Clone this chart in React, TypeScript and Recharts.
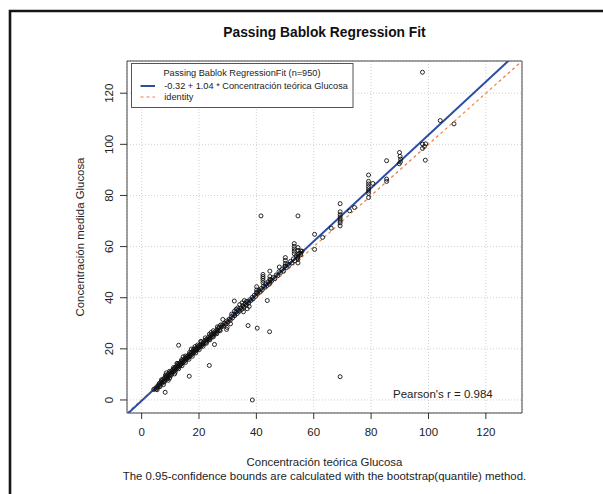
import React from "react";
import {
  ScatterChart,
  Scatter,
  XAxis,
  YAxis,
  CartesianGrid,
  ReferenceLine,
  ReferenceArea
} from "recharts";

// Passing-Bablok fit
const INTERCEPT = -0.32;
const SLOPE = 1.04;
const N_OBS = 950;
const PEARSON_R = 0.984;

const AXIS_MIN = -5.1;
const AXIS_MAX = 132.6;
const TICKS = [0, 20, 40, 60, 80, 100, 120];

// [teórica, medida] — the dense band from 4 to 28
const BAND_LOW: [number, number][] = [
  [4.2, 4.1], [4.6, 4.4], [5.1, 4.3], [5.3, 5.2], [5.6, 4.9], [5.9, 5.8], [6.1, 6.4], [6.3, 5.7],
  [6.6, 6.9], [6.8, 6.3], [7.0, 7.4], [7.2, 6.8], [7.4, 7.9], [7.6, 7.2], [7.8, 8.4], [8.0, 7.6],
  [8.2, 8.9], [8.4, 8.1], [8.6, 9.4], [8.8, 8.6], [9.0, 9.8], [9.2, 9.0], [9.4, 10.3], [9.6, 9.5],
  [9.8, 10.6], [10.0, 9.9], [10.2, 11.0], [10.4, 10.4], [10.6, 11.5], [10.8, 10.8], [11.0, 12.0],
  [11.2, 11.2], [11.4, 12.3], [11.6, 11.7], [11.8, 12.8], [12.0, 12.0], [12.2, 13.2], [12.4, 12.5],
  [12.6, 13.6], [12.8, 12.9], [13.0, 14.1], [13.2, 13.3], [13.4, 14.5], [13.6, 13.8], [13.8, 15.0],
  [14.0, 14.2], [14.2, 15.3], [14.4, 14.6], [14.6, 15.7], [14.8, 15.1], [15.0, 16.1], [15.2, 15.5],
  [15.4, 16.4], [15.6, 16.0], [15.8, 16.9], [16.0, 16.4], [16.2, 17.3], [16.4, 16.7], [16.6, 17.7],
  [16.8, 17.1], [17.0, 18.1], [17.2, 17.5], [17.4, 18.6], [17.6, 17.9], [17.8, 19.0], [18.0, 18.3],
  [18.2, 19.5], [18.4, 18.8], [18.6, 19.8], [18.8, 19.2], [19.0, 20.2], [19.2, 19.6], [19.4, 20.7],
  [19.6, 20.0], [19.8, 21.0], [20.0, 20.5], [20.3, 21.4], [20.6, 20.9], [20.9, 22.0], [21.2, 21.6],
  [21.5, 22.6], [21.8, 22.0], [22.1, 23.3], [22.4, 22.6], [22.7, 23.8], [23.0, 23.3], [23.3, 24.5],
  [23.6, 23.9], [23.9, 25.0], [24.2, 24.4], [24.5, 25.6], [24.8, 25.0], [25.1, 26.2], [25.4, 25.7],
  [25.7, 26.8], [26.0, 26.3], [26.3, 27.5], [26.6, 27.0], [26.9, 28.1], [27.2, 27.4],
  [5.4, 4.0], [7.6, 6.0], [9.8, 8.6], [11.5, 10.2], [8.6, 10.6], [12.3, 14.3], [14.5, 16.9],
  [18.6, 20.9], [17.3, 19.9], [20.6, 22.9], [24.2, 26.4], [27.5, 29.3], [27.0, 28.5]
];

// extra readings in the same band, the lower and upper edges
const BAND_LOW_EDGES: [number, number][] = [
  [6.4, 5.2], [7.9, 7.0], [9.1, 8.3], [10.3, 9.6], [11.7, 10.9], [12.9, 12.2], [14.1, 13.4],
  [15.3, 14.7], [16.5, 15.9], [17.7, 17.1], [18.9, 18.4], [20.1, 19.7], [21.4, 21.0], [22.6, 22.2],
  [23.8, 23.5], [25.0, 24.7], [26.2, 25.9], [27.4, 27.1],
  [6.9, 7.9], [8.3, 9.7], [9.7, 11.2], [11.1, 12.7], [12.5, 14.2], [13.9, 15.7], [15.3, 17.2],
  [16.7, 18.6], [18.1, 20.0], [19.5, 21.5], [20.8, 22.8], [22.2, 24.3], [23.6, 25.7], [25.0, 27.1],
  [26.4, 28.6]
];

// band from 28 to 56, plus the vertical stacks
const BAND_MID: [number, number][] = [
  [27.8, 28.6], [28.2, 29.4], [28.5, 28.9], [28.9, 30.0], [29.3, 29.6], [29.7, 30.9], [30.1, 30.5],
  [30.5, 31.6], [30.9, 31.2], [31.3, 32.6], [31.7, 32.1], [32.1, 33.5], [32.5, 33.0], [32.9, 34.3],
  [33.3, 33.8], [33.7, 35.1], [34.1, 34.7], [34.5, 36.0], [34.9, 35.4], [35.3, 36.9], [35.7, 36.3],
  [36.1, 37.7], [36.5, 37.1], [36.9, 38.5], [37.3, 37.9], [37.7, 39.2], [38.1, 38.9], [38.5, 40.1],
  [38.9, 39.6], [39.3, 41.0], [39.7, 40.5], [40.1, 41.9], [40.5, 41.7], [40.9, 42.8], [41.3, 42.2],
  [41.7, 43.6], [42.1, 43.2], [42.5, 44.6], [42.9, 44.1], [43.3, 45.4], [43.7, 44.8], [44.1, 46.2],
  [44.5, 45.3], [44.9, 46.9], [45.4, 46.7], [45.9, 47.9], [46.4, 47.5], [46.9, 48.9], [47.4, 48.6],
  [47.9, 50.2], [48.4, 49.8], [48.9, 51.0], [49.4, 50.4], [49.9, 52.3], [50.4, 51.7], [50.9, 53.1],
  [51.4, 52.7], [51.9, 54.2], [52.4, 53.6], [52.9, 55.2], [53.4, 54.5], [53.9, 56.4], [54.4, 55.6],
  [54.9, 57.3], [55.4, 56.8], [55.9, 58.2],
  [31.4, 33.6], [32.4, 34.8], [33.5, 36.0], [34.2, 37.3], [35.0, 38.0], [35.8, 38.9], [36.5, 38.5],
  [33.0, 35.5], [35.5, 34.5], [36.8, 35.7], [37.5, 36.6], [31.0, 29.8], [29.8, 28.4], [29.6, 27.6],
  [40.1, 42.1], [40.1, 43.0], [40.1, 44.3],
  [42.3, 45.9], [42.3, 46.8], [42.3, 47.6], [42.3, 48.3], [42.3, 49.1],
  [44.7, 46.1], [44.7, 47.2], [44.7, 48.3], [44.7, 50.4], [48.0, 52.0],
  [50.1, 52.4], [50.1, 53.4], [50.1, 54.6], [50.1, 55.7],
  [53.2, 57.2], [53.2, 58.2], [53.2, 59.1], [53.2, 60.1], [53.2, 61.2],
  [54.5, 53.6], [54.5, 55.0], [54.5, 56.0], [54.5, 57.0], [54.5, 58.5], [54.5, 59.6],
  [55.5, 57.4], [55.5, 58.3]
];

// upper range, above 56
const BAND_HIGH: [number, number][] = [
  [60.3, 64.8], [60.3, 58.9], [63.1, 63.6], [66.1, 67.2],
  [69.2, 76.8], [69.2, 73.6], [69.2, 72.5], [69.2, 71.6], [69.2, 70.8], [69.2, 70.0], [69.2, 69.3],
  [69.2, 68.1], [72.5, 74.0], [74.2, 75.3],
  [79.1, 88.0], [79.1, 85.5], [79.1, 84.5], [79.1, 83.5], [79.1, 82.6], [79.1, 81.7], [79.1, 80.8],
  [79.1, 79.2], [80.6, 84.7],
  [85.4, 93.6], [85.4, 86.4], [85.4, 85.5],
  [89.9, 96.8], [90.1, 95.3], [90.3, 94.2], [89.8, 92.4], [90.2, 93.1],
  [97.9, 128.2], [104.1, 109.3], [108.9, 108.0],
  [97.9, 100.1], [99.0, 100.2], [97.9, 98.4], [98.6, 99.2], [98.9, 93.8]
];

const OUTLIERS: [number, number][] = [
  [41.6, 72.0], [54.5, 72.0], [38.6, 0.0], [69.2, 9.1], [43.8, 38.9], [37.1, 29.1], [40.3, 28.1],
  [44.6, 26.7], [25.4, 21.7], [23.6, 13.5], [16.6, 9.3], [12.9, 21.4], [8.2, 3.0], [9.3, 7.7],
  [32.3, 38.7], [28.3, 31.5]
];

const points = [...BAND_LOW, ...BAND_LOW_EDGES, ...BAND_MID, ...BAND_HIGH, ...OUTLIERS].map(
  ([x, y]) => ({ x, y })
);

const fitAt = (x: number) => INTERCEPT + SLOPE * x;

const FONT = '"Liberation Sans", Arial, Helvetica, sans-serif';
const BLUE = "#2B4DA6";
const ORANGE = "#EF7A45";

const W = 603;
const H = 494;
const PLOT = { left: 127, right: 522, top: 61, bottom: 413 };
const X_AXIS_H = 30;
const Y_AXIS_W = 40;

function Ring(props: any) {
  const { cx, cy } = props;
  if (cx == null || cy == null) return null;
  return <circle cx={cx} cy={cy} r={2} fill="none" stroke="#111" strokeWidth={0.9} />;
}

function YTick(props: any) {
  const { x, y, payload } = props;
  return (
    <text
      x={x}
      y={y}
      dy="0.35em"
      textAnchor="middle"
      transform={`rotate(-90, ${x}, ${y})`}
      fontSize={11.5}
      fontFamily={FONT}
      fill="#222"
    >
      {payload.value}
    </text>
  );
}

function Overlay() {
  const midX = (PLOT.left + PLOT.right) / 2;
  const midY = (PLOT.top + PLOT.bottom) / 2;
  return (
    <svg
      width={W}
      height={H}
      style={{ position: "absolute", left: 0, top: 0, pointerEvents: "none" }}
      fontFamily={FONT}
    >
      <path d={`M10,${H} V11 H${W}`} fill="none" stroke="#151515" strokeWidth={2.6} />
      <text x={midX} y={32} dy="0.35em" textAnchor="middle" fontSize={13.8} fontWeight="bold" fill="#111">
        Passing Bablok Regression Fit
      </text>
      <text
        x={80}
        y={midY}
        dy="0.35em"
        textAnchor="middle"
        transform={`rotate(-90, 80, ${midY})`}
        fontSize={11.4}
        fill="#222"
      >
        Concentración medida Glucosa
      </text>
      <text x={midX} y={462} dy="0.35em" textAnchor="middle" fontSize={11.4} fill="#222">
        Concentración teórica Glucosa
      </text>
      <text x={midX} y={476} dy="0.35em" textAnchor="middle" fontSize={11.4} fill="#222">
        The 0.95-confidence bounds are calculated with the bootstrap(quantile) method.
      </text>
      <text x={393} y={394} dy="0.35em" fontSize={11.5} fill="#222">
        {`Pearson's r = ${PEARSON_R}`}
      </text>

      <rect x={131.5} y={63.5} width={221.5} height={44} fill="#fff" stroke="#555" strokeWidth={1} />
      <text x={242} y={72.5} dy="0.35em" textAnchor="middle" fontSize={9.2} fill="#222">
        {`Passing Bablok RegressionFit (n=${N_OBS})`}
      </text>
      <line x1={140.5} x2={155} y1={86} y2={86} stroke={BLUE} strokeWidth={2} />
      <text x={164.3} y={86} dy="0.35em" fontSize={9.2} fill="#222">
        {`${INTERCEPT} + ${SLOPE} * Concentración teórica Glucosa`}
      </text>
      <line x1={140.5} x2={155} y1={97} y2={97} stroke={ORANGE} strokeWidth={1.1} strokeDasharray="3 3" />
      <text x={164.3} y={97} dy="0.35em" fontSize={9.2} fill="#222">
        identity
      </text>
    </svg>
  );
}

export default function App() {
  return (
    <div style={{ position: "absolute", left: 0, top: 0, width: W, height: H, background: "#fff" }}>
      <ScatterChart
        width={W}
        height={H}
        margin={{
          top: PLOT.top,
          right: W - PLOT.right,
          bottom: H - PLOT.bottom - X_AXIS_H,
          left: PLOT.left - Y_AXIS_W
        }}
      >
        <CartesianGrid stroke="#d0d0d0" strokeDasharray="1 2" />
        <XAxis
          type="number"
          dataKey="x"
          domain={[AXIS_MIN, AXIS_MAX]}
          ticks={TICKS}
          allowDataOverflow
          height={X_AXIS_H}
          axisLine={false}
          tickSize={6}
          tickMargin={9}
          tickLine={{ stroke: "#333" }}
          tick={{ fontSize: 11.5, fontFamily: FONT, fill: "#222" }}
        />
        <YAxis
          type="number"
          dataKey="y"
          domain={[AXIS_MIN, AXIS_MAX]}
          ticks={TICKS}
          allowDataOverflow
          width={Y_AXIS_W}
          axisLine={false}
          tickSize={7}
          tickMargin={11.5}
          tickLine={{ stroke: "#333" }}
          tick={<YTick />}
        />
        <ReferenceArea
          x1={AXIS_MIN}
          x2={AXIS_MAX}
          y1={AXIS_MIN}
          y2={AXIS_MAX}
          fill="none"
          stroke="#444"
          strokeWidth={1}
        />
        <Scatter data={points} shape={<Ring />} isAnimationActive={false} />
        <ReferenceLine
          segment={[
            { x: AXIS_MIN, y: AXIS_MIN },
            { x: AXIS_MAX, y: AXIS_MAX }
          ]}
          stroke={ORANGE}
          strokeWidth={1.2}
          strokeDasharray="3 3"
          ifOverflow="hidden"
        />
        <ReferenceLine
          segment={[
            { x: AXIS_MIN, y: fitAt(AXIS_MIN) },
            { x: AXIS_MAX, y: fitAt(AXIS_MAX) }
          ]}
          stroke={BLUE}
          strokeWidth={2}
          ifOverflow="hidden"
        />
      </ScatterChart>
      <Overlay />
    </div>
  );
}
